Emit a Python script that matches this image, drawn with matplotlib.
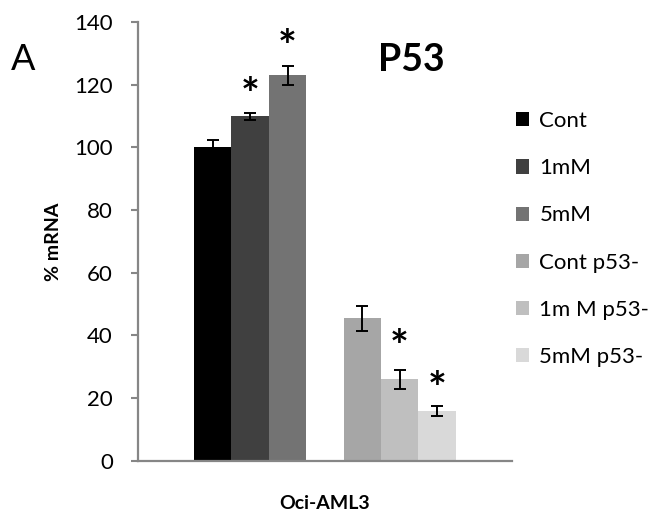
import numpy as np
import matplotlib
matplotlib.use("Agg")
import matplotlib.pyplot as plt
from matplotlib.patches import Patch

plt.rcParams["font.family"] = ["Lato", "DejaVu Sans"]

# values
series = ["Cont", "1mM", "5mM", "Cont p53-", "1m M p53-", "5mM p53-"]
values = [100, 110, 123, 45.5, 26, 15.8]
errors = [2.3, 1.1, 3.0, 4.0, 3.0, 1.7]
colors = ["#000000", "#404040", "#737373", "#a6a6a6", "#bfbfbf", "#d9d9d9"]
star_bars = [1, 2, 4, 5]
star_levels = [120.5, 135.8, 40.1, 26.7]
category = "Oci-AML3"


def bar_positions(n, per_group=3):
    # one empty slot between the two groups
    return [i + i // per_group for i in range(n)]


def __main__():
    fig = plt.figure(figsize=(6.57, 5.17), dpi=100)
    ax = fig.add_axes([0.21, 0.109, 0.569, 0.848])

    xs = bar_positions(len(values))
    ax.bar(xs, values, width=1.0, color=colors, edgecolor="none", zorder=2)
    ax.errorbar(xs, values, yerr=errors, fmt="none", ecolor="black",
                elinewidth=1.4, capsize=4.5, capthick=1.4, zorder=3)

    for b, lvl in zip(star_bars, star_levels):
        ax.text(xs[b], lvl - 4.0, "*", ha="center", va="center", fontsize=32,
                fontweight="bold", color="black")

    ax.set_xlim(-2, 8)
    ax.set_ylim(0, 140)
    ax.set_yticks(np.arange(0, 141, 20))
    ax.set_xticks([3])
    ax.set_xticklabels([category], fontsize=14, fontweight="bold")
    ax.tick_params(axis="x", length=0, pad=25)
    ax.tick_params(axis="y", length=5, width=1.5, color="#868686",
                   labelsize=16, pad=13)
    for side in ["top", "right"]:
        ax.spines[side].set_visible(False)
    for side in ["left", "bottom"]:
        ax.spines[side].set_color("#868686")
        ax.spines[side].set_linewidth(1.6)

    ax.set_ylabel("% mRNA", fontsize=14, fontweight="bold", labelpad=9)

    fig.text(0.626, 0.884, "P53", fontsize=27, fontweight="bold",
             ha="center", va="center")
    fig.text(0.035, 0.884, "A", fontsize=26, ha="center", va="center")

    handles = [Patch(facecolor=c, edgecolor="none") for c in colors]
    fig.legend(handles, series, loc="upper left",
               bbox_to_anchor=(0.772, 0.802), frameon=False,
               fontsize=16, handlelength=0.6, handleheight=0.6,
               handletextpad=0.45, labelspacing=1.22, borderaxespad=0)

    fig.savefig("out.png", dpi=100)


if __name__ == "__main__":
    __main__()
